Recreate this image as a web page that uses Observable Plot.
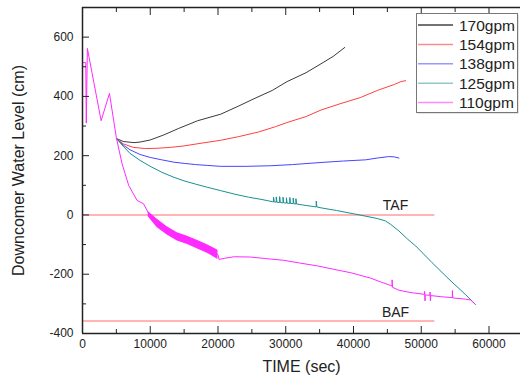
<!DOCTYPE html>
<html><head><meta charset="utf-8">
<script src="https://cdn.jsdelivr.net/npm/d3@7"></script>
<script src="https://cdn.jsdelivr.net/npm/@observablehq/plot@0.6"></script>
<style>
body{margin:0;background:#fff;font-family:"Liberation Sans",Arial,sans-serif;}
#wrap{position:relative;width:520px;height:382px;}
#legend{position:absolute;left:415px;top:12px;}
</style></head>
<body><div id="wrap"></div>
<script>
// ---- axes ----
const xDomain = [0, 64650];
const yDomain = [-400, 700];
const xMajor = [0, 10000, 20000, 30000, 40000, 50000, 60000];
const xMinor = [5000, 15000, 25000, 35000, 45000, 55000];
const yMajor = [-400, -200, 0, 200, 400, 600];
const yMinor = [-300, -100, 100, 300, 500];
const xTitle = "TIME (sec)";
const yTitle = "Downcomer Water Level (cm)";

// ---- series ----
const names = ["170gpm", "154gpm", "138gpm", "125gpm", "110gpm"];
const lineColors = ["#3a3a3a", "#ff4040", "#4646ff", "#1a9090", "#ff2aff"];
const legendColors = ["#444444", "#ff8a8a", "#9898ff", "#92c8c8", "#ff8aff"];

const t170 = [5000, 6000, 7600, 8500, 10000, 12000, 14200, 17000, 20400, 23000, 25300, 28000, 30200, 33000, 35200, 37000, 38700];
const v170 = [258, 248, 244, 246, 253, 270, 292, 318, 340, 367, 392, 420, 450, 480, 510, 535, 565];

const t154 = [5000, 6000, 7500, 9300, 11000, 13000, 15000, 17500, 20400, 23000, 26000, 28500, 30200, 33000, 35200, 38000, 41000, 43500, 46000, 47000, 47700];
const v154 = [258, 240, 228, 224, 225, 228, 233, 242, 252, 264, 280, 298, 312, 332, 354, 375, 396, 420, 440, 450, 453];

const t138 = [5000, 6000, 7000, 8500, 10000, 11700, 13500, 15000, 16700, 18500, 20400, 24000, 27800, 31000, 35200, 38500, 41800, 43500, 45200, 46000, 46700];
const v138 = [258, 236, 220, 204, 194, 186, 178, 174, 170, 167, 164, 164, 166, 170, 177, 182, 186, 192, 197, 196, 192];

const t125 = [5000, 6000, 7000, 8500, 10000, 11700, 13500, 15000, 16700, 18500, 20400, 22500, 24500, 26500, 28000,
  28200, 28200, 28300, 28600, 28600, 28700, 29100, 29100, 29200, 29600, 29600, 29700, 30100, 30100, 30200,
  30600, 30600, 30700, 31100, 31100, 31200, 31500, 31500, 31600,
  33000, 34500, 34500, 34600, 35200, 37500, 40000, 42000, 43500, 44700, 45500, 46700, 48000, 49200, 51600, 54100, 56500, 58000];
const v125 = [258, 232, 208, 184, 164, 144, 127, 115, 104, 93, 82, 70, 60, 52, 45,
  44, 60, 44, 43, 61, 43, 42, 62, 42, 41, 60, 41, 40, 58, 40,
  39, 59, 39, 38, 57, 38, 37, 55, 37,
  32, 27, 47, 27, 24, 15, 4, -5, -12, -20, -32, -54, -82, -105, -161, -217, -268, -302];

const t110 = [0, 480, 560, 720, 1400, 2750, 3980, 5000, 5850, 6830, 8060, 9000, 9700,
  11000, 12500, 14000, 15500, 17000, 18500, 20000, 20150,
  21000, 22400, 24800, 27000, 29700, 32000, 34700, 37000, 39600, 42500, 44000, 45500, 45700, 45700, 45750,
  46700, 48500, 50500, 50500, 50550, 50600, 51300, 51300, 51350, 51400, 53000, 54600, 54600, 54650, 56500, 57300, 58000];
const v110 = [514, 514, 310, 562, 480, 318, 410, 260, 172, 99, 49, 38, 8,
  -28, -54, -74, -86, -100, -115, -134, -150,
  -146, -141, -142, -147, -153, -162, -172, -183, -195, -213, -226, -238, -240, -219, -244,
  -254, -262, -268, -258, -290, -270, -271, -260, -290, -272, -276, -279, -255, -280, -284, -287, -302];

// oscillation band of 110gpm
const bandT = [9700, 11000, 12500, 14000, 15500, 17000, 18500, 20000];
const bandHi = [12, -14, -40, -60, -72, -86, -101, -119];
const bandLo = [-6, -42, -68, -88, -100, -115, -130, -150];

// reference levels
const refNames = ["TAF", "BAF"];
const refLevels = [0, -358];
const refEnd = 52000;
const refLabelT = 46200;
const refLabelV = [32, -328];

const font = '"Liberation Sans", Arial, sans-serif';
const ink = "#222";

const lineMark = (t, v, c) => Plot.line(t, {x: t, y: v, stroke: c, strokeWidth: 1});

const plot = Plot.plot({
  width: 520, height: 382,
  marginLeft: 82, marginRight: 0, marginTop: 7, marginBottom: 49,
  x: {domain: xDomain},
  y: {domain: yDomain},
  style: {fontFamily: font, fontSize: "12px", color: ink, background: "white", overflow: "visible"},
  marks: [
    Plot.ruleY(refLevels, {x1: xDomain[0], x2: refEnd, stroke: "#ff9c9c", strokeWidth: 1.6}),
    Plot.text(refNames, {x: refLabelT, y: refLabelV, text: d => d, fontSize: 14, fill: ink}),
    lineMark(t170, v170, lineColors[0]),
    lineMark(t154, v154, lineColors[1]),
    lineMark(t138, v138, lineColors[2]),
    lineMark(t125, v125, lineColors[3]),
    Plot.areaY(bandT, {x: bandT, y1: bandLo, y2: bandHi, fill: lineColors[4], curve: "linear"}),
    lineMark(t110, v110, lineColors[4]),
    // frame lines
    Plot.ruleX([xDomain[0]], {stroke: ink, strokeWidth: 1.5}),
    Plot.ruleY([yDomain[0]], {stroke: ink, strokeWidth: 1.5}),
    Plot.ruleY([yDomain[1]], {stroke: ink, strokeWidth: 1.5}),
    // inward ticks
    Plot.axisX(xMajor, {anchor: "bottom", tickSize: 7, dy: -7, fill: "none", label: null, stroke: ink}),
    Plot.axisX(xMinor, {anchor: "bottom", tickSize: 4, dy: -4, fill: "none", label: null, stroke: ink}),
    Plot.axisX(xMajor, {anchor: "top", tickSize: 7, dy: 7, fill: "none", label: null, stroke: ink}),
    Plot.axisX(xMinor, {anchor: "top", tickSize: 4, dy: 4, fill: "none", label: null, stroke: ink}),
    Plot.axisY(yMajor, {anchor: "left", tickSize: 7, dx: 7, fill: "none", label: null, stroke: ink}),
    Plot.axisY(yMinor, {anchor: "left", tickSize: 4, dx: 4, fill: "none", label: null, stroke: ink}),
    // tick labels
    Plot.axisX(xMajor, {anchor: "bottom", tickSize: 0, tickPadding: 6, tickFormat: d => String(d), label: null, fontSize: 12, fill: ink}),
    Plot.axisY(yMajor, {anchor: "left", tickSize: 0, tickPadding: 9, tickFormat: d => String(d), label: null, fontSize: 12, fill: ink}),
    // titles
    Plot.text([xTitle], {frameAnchor: "bottom", dy: 38, text: d => d, fontSize: 16, fill: ink}),
    Plot.text([yTitle], {frameAnchor: "left", dx: -64, rotate: -90, textAnchor: "middle", text: d => d, fontSize: 16, fill: ink})
  ]
});

const wrap = document.getElementById("wrap");
wrap.appendChild(plot);

// legend
const lg = d3.create("svg").attr("id", "legend").attr("width", 105).attr("height", 103)
  .style("font-family", font);
lg.append("rect").attr("x", 2.5).attr("y", 2.5).attr("width", 101).attr("height", 99).attr("fill", "#c8c8c8");
lg.append("rect").attr("x", 1.5).attr("y", 1.5).attr("width", 101).attr("height", 99)
  .attr("fill", "white").attr("stroke", "#777").attr("stroke-width", 1);
names.forEach((n, i) => {
  const y = 13 + i * 19.4;
  lg.append("line").attr("x1", 3).attr("x2", 38).attr("y1", y).attr("y2", y)
    .attr("stroke", legendColors[i]).attr("stroke-width", 1.5);
  lg.append("text").attr("x", 44).attr("y", y).attr("dy", "0.36em")
    .attr("font-size", 15.5).attr("fill", ink).text(n);
});
wrap.appendChild(lg.node());
</script>
</body></html>
